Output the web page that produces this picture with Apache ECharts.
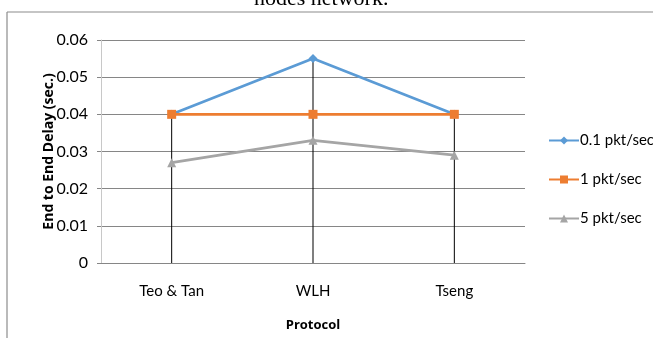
<!DOCTYPE html>
<html><head><meta charset="utf-8">
<script src="https://cdn.jsdelivr.net/npm/echarts@6/dist/echarts.min.js"></script>
<style>html,body{margin:0;padding:0;background:#fff}#c{width:653px;height:338px}</style>
</head><body><div id="c"></div>
<script>
var categories = ['Teo & Tan', 'WLH', 'Tseng'];
var s01 = [0.04, 0.055, 0.04];
var s1 = [0.04, 0.04, 0.04];
var s5 = [0.027, 0.033, 0.029];
var seriesNames = ['0.1 pkt/sec', '1 pkt/sec', '5 pkt/sec'];
var yTicks = [0, 0.01, 0.02, 0.03, 0.04, 0.05, 0.06];
var dropTop = categories.map(function (c, i) { return Math.max(s01[i], s1[i], s5[i]); });

var FONT = 'Lato, sans-serif';
var chart = echarts.init(document.getElementById('c'));
chart.setOption({
  animation: false,
  backgroundColor: '#fff',
  grid: { left: 101, right: 128, top: 40, bottom: 75 },
  graphic: [
    { type: 'line', shape: { x1: 7, y1: 12, x2: 653, y2: 12 }, style: { stroke: '#8c8c8c', lineWidth: 1.2 } },
    { type: 'line', shape: { x1: 7, y1: 12, x2: 7, y2: 338 }, style: { stroke: '#8c8c8c', lineWidth: 1.2 } },
    { type: 'text', left: 254, top: -12, style: { text: 'nodes network.', font: '22px "Liberation Serif", serif', fill: '#000' } }
  ],
  legend: {
    orient: 'vertical', left: 548, top: 133, padding: 0, itemGap: 24, itemWidth: 30, itemHeight: 10,
    textStyle: { fontFamily: FONT, fontSize: 15, color: '#000', padding: [0, 0, 0, -4] },
    data: seriesNames
  },
  xAxis: {
    type: 'category', data: categories, boundaryGap: true,
    name: 'Protocol', nameLocation: 'middle', nameGap: 56, nameMoveOverlap: false,
    nameTextStyle: { fontFamily: '"Open Sans", sans-serif', fontWeight: 'bold', fontSize: 13, color: '#000' },
    axisLine: { lineStyle: { color: '#868686' } },
    axisTick: { show: false },
    axisLabel: { fontFamily: FONT, fontSize: 15, color: '#000', margin: 21 }
  },
  yAxis: {
    type: 'value', min: 0, max: 0.06, interval: 0.01,
    name: 'End to End Delay (sec.)', nameLocation: 'middle', nameGap: 45, nameMoveOverlap: false,
    nameTextStyle: { fontFamily: '"Open Sans", sans-serif', fontWeight: 'bold', fontSize: 14, color: '#000' },
    axisLine: { show: true, lineStyle: { color: '#c8c8c8' } },
    axisTick: { show: true, length: 4, inside: false, lineStyle: { color: '#868686' } },
    axisLabel: { fontFamily: FONT, fontSize: 16, color: '#000', margin: 13,
      formatter: function (v) { return yTicks.indexOf(Math.round(v * 100) / 100) >= 0 ? String(Math.round(v * 100) / 100) : ''; } },
    splitLine: { lineStyle: { color: '#868686' } }
  },
  series: [
    { name: 'drop', type: 'bar', data: dropTop, barWidth: 1, itemStyle: { color: '#000' }, z: 1, silent: true },
    { name: seriesNames[0], type: 'line', data: s01, symbol: 'diamond', symbolSize: 9,
      lineStyle: { color: '#5B9BD5', width: 2.75 }, itemStyle: { color: '#5B9BD5' }, z: 3 },
    { name: seriesNames[1], type: 'line', data: s1, symbol: 'rect', symbolSize: 9,
      lineStyle: { color: '#ED7D31', width: 2.75 }, itemStyle: { color: '#ED7D31' }, z: 4 },
    { name: seriesNames[2], type: 'line', data: s5, symbol: 'triangle', symbolSize: 9,
      lineStyle: { color: '#A5A5A5', width: 2.75 }, itemStyle: { color: '#A5A5A5' }, z: 2 }
  ]
});
</script></body></html>
